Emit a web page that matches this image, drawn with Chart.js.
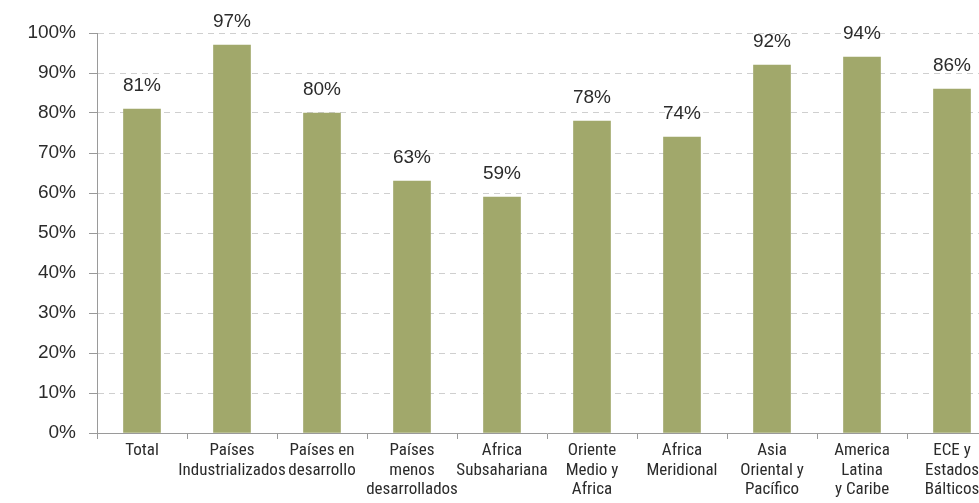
<!DOCTYPE html>
<html>
<head>
<meta charset="utf-8">
<script src="https://cdn.jsdelivr.net/npm/chart.js@4/dist/chart.umd.min.js"></script>
<style>
  html, body { margin: 0; padding: 0; background: #fff; overflow: hidden; }
  canvas { display: block; }
</style>
</head>
<body>
<canvas id="chart" width="1000" height="503"></canvas>
<script>
const categories = [
  "Total",
  ["Países", "Industrializados"],
  ["Países en", "desarrollo"],
  ["Países", "menos", "desarrollados"],
  ["Africa", "Subsahariana"],
  ["Oriente", "Medio y", "Africa"],
  ["Africa", "Meridional"],
  ["Asia", "Oriental y", "Pacífico"],
  ["America", "Latina", "y Caribe"],
  ["ECE y", "Estados", "Bálticos"]
];
const values = [81, 97, 80, 63, 59, 78, 74, 92, 94, 86];
const yTicks = [0, 10, 20, 30, 40, 50, 60, 70, 80, 90, 100];

const barColor = "#a1a86b";
const textColor = "#2b2b2b";
const axisColor = "#9a9a9a";

// value labels above each bar
const valueLabels = {
  id: "valueLabels",
  afterDatasetsDraw(chart) {
    const ctx = chart.ctx;
    const meta = chart.getDatasetMeta(0);
    ctx.save();
    ctx.font = "19px 'Liberation Sans', Arial, sans-serif";
    ctx.fillStyle = textColor;
    ctx.textAlign = "center";
    ctx.textBaseline = "middle";
    meta.data.forEach((bar, i) => {
      ctx.fillText(values[i] + "%", bar.x, bar.y - 23);
    });
    ctx.restore();
  }
};

new Chart(document.getElementById("chart"), {
  type: "bar",
  data: {
    labels: categories,
    datasets: [{
      data: values,
      backgroundColor: barColor,
      barThickness: 37,
      categoryPercentage: 1
    }]
  },
  options: {
    responsive: false,
    animation: false,
    devicePixelRatio: 1,
    layout: { padding: { top: 33, right: 3, left: 0, bottom: 0 } },
    plugins: { legend: { display: false }, tooltip: { enabled: false } },
    scales: {
      x: {
        grid: {
          offset: true,
          drawOnChartArea: false,
          drawTicks: true,
          tickLength: 6,
          tickColor: axisColor
        },
        border: { display: true, color: axisColor, width: 1 },
        ticks: {
          color: textColor,
          autoSkip: false,
          maxRotation: 0,
          minRotation: 0,
          padding: 2,
          font: { family: "'Roboto Condensed', sans-serif", size: 17, lineHeight: 1.15 }
        },
        afterFit(scale) { scale.height = 70; }
      },
      y: {
        min: 0,
        max: 100,
        afterBuildTicks(scale) { scale.ticks = yTicks.map(v => ({ value: v })); },
        grid: {
          color: ctx => (ctx.tick && ctx.tick.value === 0 ? "rgba(0,0,0,0)" : "#cfcfcf"),
          lineWidth: 1,
          drawTicks: true,
          tickLength: 8,
          tickColor: axisColor,
          tickBorderDash: []
        },
        border: { display: true, color: axisColor, width: 1, dash: [6, 5] },
        ticks: {
          color: textColor,
          padding: 13,
          font: { family: "'Liberation Sans', Arial, sans-serif", size: 19 },
          callback: v => v + "%"
        },
        afterFit(scale) { scale.width = 97; }
      }
    }
  },
  plugins: [valueLabels]
});
</script>
</body>
</html>
